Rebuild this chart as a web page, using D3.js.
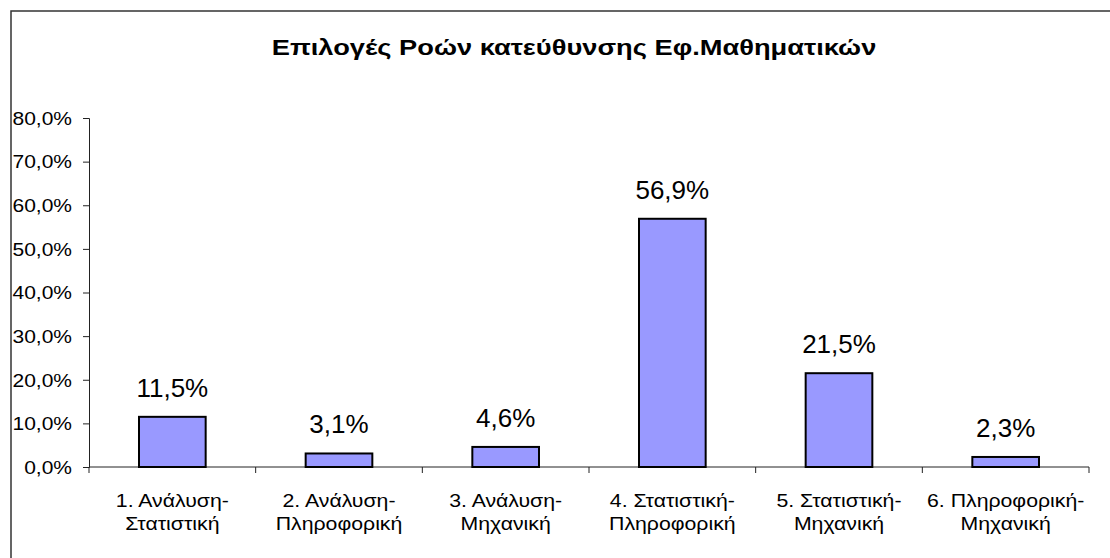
<!DOCTYPE html>
<html>
<head>
<meta charset="utf-8">
<script src="https://cdn.jsdelivr.net/npm/d3@7"></script>
<style>
  body { margin: 0; background: #fff; }
  svg { font-family: "Liberation Sans", Arial, sans-serif; }
</style>
</head>
<body>
<div id="chart"></div>
<script>
const title = "Επιλογές Ροών κατεύθυνσης Εφ.Μαθηματικών";
const categories = [
  ["1. Ανάλυση-", "Στατιστική"],
  ["2. Ανάλυση-", "Πληροφορική"],
  ["3. Ανάλυση-", "Μηχανική"],
  ["4. Στατιστική-", "Πληροφορική"],
  ["5. Στατιστική-", "Μηχανική"],
  ["6. Πληροφορική-", "Μηχανική"],
];
const values = [11.5, 3.1, 4.6, 56.9, 21.5, 2.3];
const yTicks = [0, 10, 20, 30, 40, 50, 60, 70, 80];

const width = 1110, height = 558;
const margin = { top: 118, right: 21, bottom: 91, left: 89 };
const pct = d => d3.format(".1f")(d).replace(".", ",") + "%";

const svg = d3.select("#chart").append("svg")
  .attr("width", width)
  .attr("height", height);

// outer frame (right/bottom edges run off the picture)
svg.append("rect")
  .attr("x", 11).attr("y", 11)
  .attr("width", width + 20).attr("height", height + 20)
  .attr("fill", "none")
  .attr("stroke", "#333")
  .attr("stroke-width", 1.5);

// title, stretched a bit wider like the original
svg.append("text")
  .attr("transform", "translate(574,55) scale(1.24,1)")
  .attr("text-anchor", "middle")
  .attr("font-size", "22px")
  .attr("font-weight", "bold")
  .text(title);

const data = categories.map((c, i) => ({ label: c, key: String(i), value: values[i] }));

const x = d3.scaleBand()
  .domain(data.map(d => d.key))
  .range([margin.left, width - margin.right])
  .paddingInner(0.6)
  .paddingOuter(0.3);

const y = d3.scaleLinear()
  .domain([0, 80])
  .range([height - margin.bottom, margin.top]);

// y axis
const yAxis = svg.append("g")
  .attr("transform", `translate(${margin.left},0)`)
  .call(d3.axisLeft(y).tickValues(yTicks).tickSize(6).tickFormat(pct));
yAxis.selectAll("text")
  .attr("font-size", "17.5px")
  .attr("fill", "#000")
  .attr("font-family", "Liberation Sans, Arial, sans-serif")
  .attr("x", -17 / 1.2)
  .attr("dy", "0.36em")
  .attr("transform", "scale(1.2,1)");
yAxis.selectAll("line, path").attr("stroke", "#222");

// x axis with boundary ticks between categories
const x0 = margin.left, x1 = width - margin.right;
const step = (x1 - x0) / data.length;
const xAxis = svg.append("g");
xAxis.append("line")
  .attr("x1", x0).attr("x2", x1)
  .attr("y1", y(0)).attr("y2", y(0))
  .attr("stroke", "#222");
xAxis.selectAll("line.tick")
  .data(d3.range(data.length + 1))
  .join("line")
  .attr("class", "tick")
  .attr("x1", i => x0 + i * step).attr("x2", i => x0 + i * step)
  .attr("y1", y(0)).attr("y2", y(0) + 6)
  .attr("stroke", "#222");

const lbl = xAxis.selectAll("text")
  .data(data)
  .join("text")
  .attr("transform", d => `translate(${x(d.key) + x.bandwidth() / 2},${y(0) + 40}) scale(1.15,1)`)
  .attr("text-anchor", "middle")
  .attr("font-size", "18.5px");
lbl.append("tspan").attr("x", 0).text(d => d.label[0]);
lbl.append("tspan").attr("x", 0).attr("dy", 23).text(d => d.label[1]);

// bars
svg.selectAll("rect.bar")
  .data(data)
  .join("rect")
  .attr("class", "bar")
  .attr("x", d => x(d.key))
  .attr("y", d => y(d.value))
  .attr("width", x.bandwidth())
  .attr("height", d => y(0) - y(d.value))
  .attr("fill", "#9999ff")
  .attr("stroke", "#000")
  .attr("stroke-width", 2);

// value labels
svg.selectAll("text.val")
  .data(data)
  .join("text")
  .attr("class", "val")
  .attr("x", d => x(d.key) + x.bandwidth() / 2)
  .attr("y", d => y(d.value) - 20)
  .attr("text-anchor", "middle")
  .attr("font-size", "26px")
  .text(d => pct(d.value));
</script>
</body>
</html>
